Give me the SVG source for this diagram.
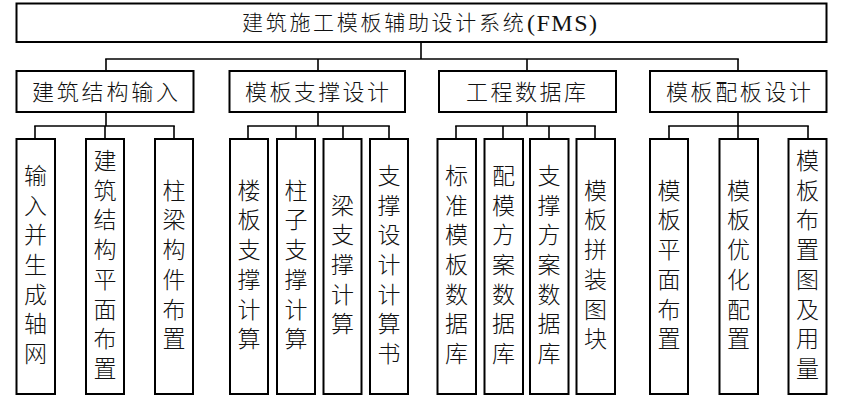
<svg xmlns="http://www.w3.org/2000/svg" width="844" height="408" viewBox="0 0 844 408">
<style>
rect.box{fill:#fff;stroke:#000;stroke-width:2}
.conn line{stroke:#000;stroke-width:1.6}
text{font-family:"Liberation Serif","Noto Sans CJK SC",serif;fill:#111;text-anchor:middle;dominant-baseline:central;font-weight:300}
.t0{font-size:21px;text-anchor:start}
.t1{font-size:22px}
.t2{font-size:23px}
</style>
<rect width="844" height="408" fill="#fff"/>
<g class="conn" id="connectors">
<line x1="421" y1="42" x2="421" y2="59"/>
<line x1="105.2" y1="59" x2="738.8" y2="59"/>
<line x1="106" y1="59" x2="106" y2="71"/>
<line x1="318" y1="59" x2="318" y2="71"/>
<line x1="527" y1="59" x2="527" y2="71"/>
<line x1="738" y1="59" x2="738" y2="71"/>
<line x1="106" y1="112" x2="106" y2="126"/>
<line x1="34.2" y1="126" x2="174.8" y2="126"/>
<line x1="35" y1="126" x2="35" y2="139"/>
<line x1="105" y1="126" x2="105" y2="139"/>
<line x1="174" y1="126" x2="174" y2="139"/>
<line x1="318" y1="112" x2="318" y2="126"/>
<line x1="247.2" y1="126" x2="389.8" y2="126"/>
<line x1="248" y1="126" x2="248" y2="139"/>
<line x1="296" y1="126" x2="296" y2="139"/>
<line x1="343" y1="126" x2="343" y2="139"/>
<line x1="389" y1="126" x2="389" y2="139"/>
<line x1="527" y1="112" x2="527" y2="126"/>
<line x1="455.2" y1="126" x2="595.8" y2="126"/>
<line x1="456" y1="126" x2="456" y2="139"/>
<line x1="503" y1="126" x2="503" y2="139"/>
<line x1="549" y1="126" x2="549" y2="139"/>
<line x1="595" y1="126" x2="595" y2="139"/>
<line x1="738" y1="112" x2="738" y2="126"/>
<line x1="668.2" y1="126" x2="808.8" y2="126"/>
<line x1="669" y1="126" x2="669" y2="139"/>
<line x1="738" y1="126" x2="738" y2="139"/>
<line x1="808" y1="126" x2="808" y2="139"/>
</g>
<g id="root">
<rect class="box" x="16.5" y="3.5" width="810" height="38.5"/>
<text class="t0" x="242" y="22.5"><tspan letter-spacing="2.7">建筑施工模板辅助设计系统</tspan><tspan x="527" font-size="24" letter-spacing="1.5">(FMS)</tspan></text>
</g>
<g id="n-jzjgsr">
<rect class="box" x="16.5" y="71" width="177" height="41"/>
<text class="t1" x="105" y="92" textLength="146" lengthAdjust="spacing">建筑结构输入</text>
</g>
<g id="n-mbzcsj">
<rect class="box" x="229.5" y="71" width="175.5" height="41"/>
<text class="t1" x="317" y="92" textLength="144" lengthAdjust="spacing">模板支撑设计</text>
</g>
<g id="n-gcsjk">
<rect class="box" x="439" y="71" width="177" height="41"/>
<text class="t1" x="526" y="92" textLength="120" lengthAdjust="spacing">工程数据库</text>
</g>
<g id="n-mbpbsj">
<rect class="box" x="650" y="71" width="176.5" height="41"/>
<text class="t1" x="738.5" y="92" textLength="145" lengthAdjust="spacing">模板配板设计</text>
</g>
<g id="l1">
<rect class="box" x="16.5" y="139" width="38.5" height="255"/>
<text class="t2" x="35.5 35.5 35.5 35.5 35.5 35.5 35.5" y="176.4 206.1 235.8 265.5 295.2 324.9 354.6">输入并生成轴网</text>
</g>
<g id="l2">
<rect class="box" x="86" y="139" width="38" height="255"/>
<text class="t2" x="105 105 105 105 105 105 105 105" y="161.55 191.25 220.95 250.65 280.35 310.05 339.75 369.45">建筑结构平面布置</text>
</g>
<g id="l3">
<rect class="box" x="155" y="139" width="38" height="255"/>
<text class="t2" x="174 174 174 174 174 174" y="191.25 220.95 250.65 280.35 310.05 339.75">柱梁构件布置</text>
</g>
<g id="l4">
<rect class="box" x="230" y="139" width="38" height="255"/>
<text class="t2" x="249 249 249 249 249 249" y="191.25 220.95 250.65 280.35 310.05 339.75">楼板支撑计算</text>
</g>
<g id="l5">
<rect class="box" x="277" y="139" width="38" height="255"/>
<text class="t2" x="296 296 296 296 296 296" y="191.25 220.95 250.65 280.35 310.05 339.75">柱子支撑计算</text>
</g>
<g id="l6">
<rect class="box" x="323.5" y="139" width="38" height="255"/>
<text class="t2" x="342.5 342.5 342.5 342.5 342.5" y="206.1 235.8 265.5 295.2 324.9">梁支撑计算</text>
</g>
<g id="l7">
<rect class="box" x="370" y="139" width="38" height="255"/>
<text class="t2" x="389 389 389 389 389 389 389" y="176.4 206.1 235.8 265.5 295.2 324.9 354.6">支撑设计计算书</text>
</g>
<g id="l8">
<rect class="box" x="437.5" y="139" width="38.5" height="255"/>
<text class="t2" x="456.5 456.5 456.5 456.5 456.5 456.5 456.5" y="176.4 206.1 235.8 265.5 295.2 324.9 354.6">标准模板数据库</text>
</g>
<g id="l9">
<rect class="box" x="484.5" y="139" width="38.5" height="255"/>
<text class="t2" x="503.5 503.5 503.5 503.5 503.5 503.5 503.5" y="176.4 206.1 235.8 265.5 295.2 324.9 354.6">配模方案数据库</text>
</g>
<g id="l10">
<rect class="box" x="530" y="139" width="38.5" height="255"/>
<text class="t2" x="549 549 549 549 549 549 549" y="176.4 206.1 235.8 265.5 295.2 324.9 354.6">支撑方案数据库</text>
</g>
<g id="l11">
<rect class="box" x="576.5" y="139" width="38.5" height="255"/>
<text class="t2" x="595.5 595.5 595.5 595.5 595.5 595.5" y="191.25 220.95 250.65 280.35 310.05 339.75">模板拼装图块</text>
</g>
<g id="l12">
<rect class="box" x="650" y="139" width="38" height="255"/>
<text class="t2" x="669 669 669 669 669 669" y="191.25 220.95 250.65 280.35 310.05 339.75">模板平面布置</text>
</g>
<g id="l13">
<rect class="box" x="719.5" y="139" width="38.5" height="255"/>
<text class="t2" x="738.5 738.5 738.5 738.5 738.5 738.5" y="191.25 220.95 250.65 280.35 310.05 339.75">模板优化配置</text>
</g>
<g id="l14">
<rect class="box" x="788.5" y="139" width="38" height="255"/>
<text class="t2" x="807.5 807.5 807.5 807.5 807.5 807.5 807.5 807.5" y="161.55 191.25 220.95 250.65 280.35 310.05 339.75 369.45">模板布置图及用量</text>
</g>
</svg>
